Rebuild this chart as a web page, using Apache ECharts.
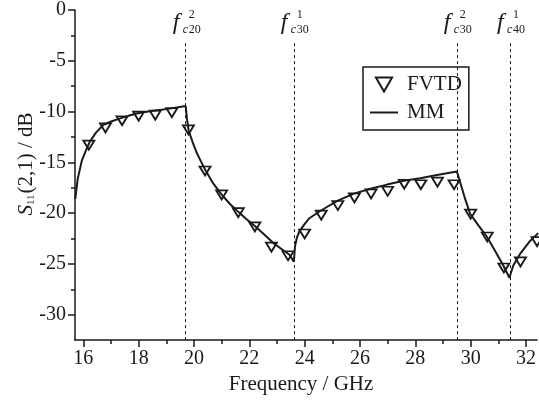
<!DOCTYPE html>
<html><head><meta charset="utf-8">
<script src="https://cdn.jsdelivr.net/npm/echarts@6/dist/echarts.min.js"></script>
<style>html,body{margin:0;padding:0;background:#fff}#c{width:539px;height:400px}</style>
</head><body><div id="c"></div>
<script>
// ---- data ----
const freqFVTD = [16.2,16.8,17.4,18.0,18.6,19.2,19.8,20.4,21.0,21.6,22.2,22.8,23.4,24.0,24.6,25.2,25.8,26.4,27.0,27.6,28.2,28.8,29.4,30.0,30.6,31.2,31.8,32.4];
const s11FVTD  = [-13.3,-11.6,-10.9,-10.45,-10.35,-10.1,-11.8,-15.85,-18.2,-19.95,-21.35,-23.35,-24.2,-22.05,-20.2,-19.25,-18.5,-18.1,-17.85,-17.15,-17.2,-16.95,-17.2,-20.1,-22.35,-25.4,-24.8,-22.8];
const freqMM = [15.71,15.80,15.95,16.10,16.22,16.45,16.73,17.03,17.33,17.63,17.93,18.23,18.53,18.83,19.13,19.43,19.70,19.75,19.81,19.95,20.09,20.25,20.41,20.70,21.01,21.30,21.61,21.90,22.21,22.50,22.85,23.15,23.45,23.61,23.65,23.72,23.81,23.99,24.17,24.59,25.18,25.78,26.38,26.98,27.58,28.18,28.78,29.50,29.56,29.68,29.80,29.98,30.28,30.58,30.88,31.18,31.40,31.54,31.78,32.14,32.44];
const s11MM  = [-18.6,-16.6,-14.8,-13.8,-13.05,-12.1,-11.3,-10.95,-10.67,-10.42,-10.19,-10.05,-9.93,-9.82,-9.71,-9.58,-9.46,-10.8,-11.9,-13.0,-14.0,-14.9,-15.76,-17.1,-18.2,-19.1,-19.9,-20.6,-21.3,-22.0,-22.9,-23.5,-24.1,-24.77,-23.3,-22.4,-21.8,-21.1,-20.5,-19.74,-18.8,-18.08,-17.6,-17.19,-16.81,-16.56,-16.24,-15.9,-16.4,-17.5,-18.6,-20.06,-21.2,-22.3,-23.7,-25.15,-26.36,-25.15,-24.04,-22.76,-21.97];
const cutoffFreqs = [19.70, 23.61, 29.50, 31.42];
const cutoffSup = ['2','1','2','1'];
const cutoffSub = ['20','30','30','40'];
const xTickLabels = [16,18,20,22,24,26,28,30,32];
const xMinorTicks = [17,19,21,23,25,27,29,31];
const yTickLabels = [0,-5,-10,-15,-20,-25,-30];
const yMinorTicks = [-2.5,-7.5,-12.5,-17.5,-22.5,-27.5];
const seriesNames = ['FVTD','MM'];

// ---- styling ----
const FONT = 'Liberation Serif';
const INK = '#1a1a1a';
const X_MIN = 15.7, X_MAX = 32.4, Y_MIN = -32.5, Y_MAX = 0;
const DASH_TOP = -3.15;
const triDown = 'path://M0,0 L10,0 L5,8.66 Z';
const lineIcon = 'path://M0,0 L28,0 L28,2 L0,2 Z';

const chart = echarts.init(document.getElementById('c'), null, {renderer:'canvas'});

const baseX = {type:'value', min:X_MIN, max:X_MAX, splitLine:{show:false}, position:'bottom'};
const baseY = {type:'value', min:Y_MIN, max:Y_MAX, splitLine:{show:false}, position:'left'};
const txt = (size, extra) => Object.assign({fontFamily:FONT, fontSize:size, color:INK}, extra || {});
const axisLn = {onZero:false, lineStyle:{color:INK, width:1.5}};
const noLn = {show:false, onZero:false};

chart.setOption({
  animation:false,
  backgroundColor:'#fff',
  textStyle:{fontFamily:FONT},
  grid:{left:75, right:0, top:10, bottom:50},
  xAxis:[
    Object.assign({}, baseX, {
      axisLine:axisLn,
      axisTick:{customValues:xTickLabels, length:7, lineStyle:{color:INK, width:1.5}},
      axisLabel:txt(20, {customValues:xTickLabels, margin:9}),
      name:'Frequency / GHz', nameLocation:'middle', nameGap:27,
      nameTextStyle:txt(21, {padding:[0,10,0,0]})
    }),
    Object.assign({}, baseX, {
      axisLine:noLn,
      axisTick:{customValues:xMinorTicks, length:4, lineStyle:{color:INK, width:1.5}},
      axisLabel:{show:false, customValues:xMinorTicks}
    })
  ],
  yAxis:[
    Object.assign({}, baseY, {
      axisLine:axisLn,
      axisTick:{customValues:yTickLabels, length:7, lineStyle:{color:INK, width:1.5}},
      axisLabel:txt(20, {customValues:yTickLabels, margin:9})
    }),
    Object.assign({}, baseY, {
      axisLine:noLn,
      axisTick:{customValues:yMinorTicks, length:4, lineStyle:{color:INK, width:1.5}},
      axisLabel:{show:false, customValues:yMinorTicks}
    })
  ],
  legend:{
    orient:'vertical', left:363, top:67,
    padding:[7,7,7,7], itemGap:7, itemWidth:28, itemHeight:14,
    borderColor:INK, borderWidth:1.5, backgroundColor:'#fff',
    textStyle:txt(21, {padding:[0,0,0,4]}),
    data:[
      {name:seriesNames[0], icon:triDown, itemStyle:{color:'rgba(255,255,255,0)', borderColor:INK, borderWidth:2, opacity:1}},
      {name:seriesNames[1], icon:lineIcon, itemStyle:{color:INK, borderWidth:0}}
    ]
  },
  series:[
    {
      name:seriesNames[1], type:'line', symbol:'none', showSymbol:false,
      data:freqMM.map((f,i)=>[f, s11MM[i]]),
      lineStyle:{color:INK, width:2}, itemStyle:{color:INK},
      z:2,
      markLine:{
        silent:true, symbol:['none','none'], label:{show:false},
        lineStyle:{color:INK, width:1, type:[3,3]},
        data:cutoffFreqs.map(f=>[{coord:[f, Y_MIN]},{coord:[f, DASH_TOP]}])
      }
    },
    {
      name:seriesNames[0], type:'scatter',
      symbol:triDown, symbolSize:[11,9], symbolKeepAspect:false,
      data:freqFVTD.map((f,i)=>[f, s11FVTD[i]]),
      itemStyle:{color:'rgba(255,255,255,0)', borderColor:INK, borderWidth:1.8, opacity:1},
      z:3
    }
  ]
});

// cutoff-frequency labels and the y-axis title
const g = [];
cutoffFreqs.forEach((f,i)=>{
  const px = chart.convertToPixel({xAxisIndex:0}, f);
  g.push({type:'text', x:px-13, y:23, style:{text:'f', fontFamily:FONT, fontStyle:'italic', fontSize:24, fill:INK, align:'left', verticalAlign:'middle'}});
  g.push({type:'text', x:px-3, y:30, style:{text:'c', fontFamily:FONT, fontStyle:'italic', fontSize:12, fill:INK, align:'left', verticalAlign:'middle'}});
  g.push({type:'text', x:px+3, y:15, style:{text:cutoffSup[i], fontFamily:FONT, fontSize:12, fill:INK, align:'left', verticalAlign:'middle'}});
  g.push({type:'text', x:px+3, y:30, style:{text:cutoffSub[i], fontFamily:FONT, fontSize:12, fill:INK, align:'left', verticalAlign:'middle'}});
});
g.push({
  type:'text', x:25, y:164, rotation:Math.PI/2,
  style:{
    text:'{s|S}{sub|11}{t|(2,1) / dB}', align:'center', verticalAlign:'middle',
    fontFamily:FONT, fontSize:21, fill:INK,
    rich:{
      s:{fontFamily:FONT, fontStyle:'italic', fontSize:21, color:INK, verticalAlign:'bottom', lineHeight:24},
      sub:{fontFamily:FONT, fontSize:11, color:INK, verticalAlign:'bottom', lineHeight:14, padding:[0,1,0,0]},
      t:{fontFamily:FONT, fontSize:21, color:INK, verticalAlign:'bottom', lineHeight:24}
    }
  }
});
chart.setOption({graphic:g});
</script>
</body></html>
